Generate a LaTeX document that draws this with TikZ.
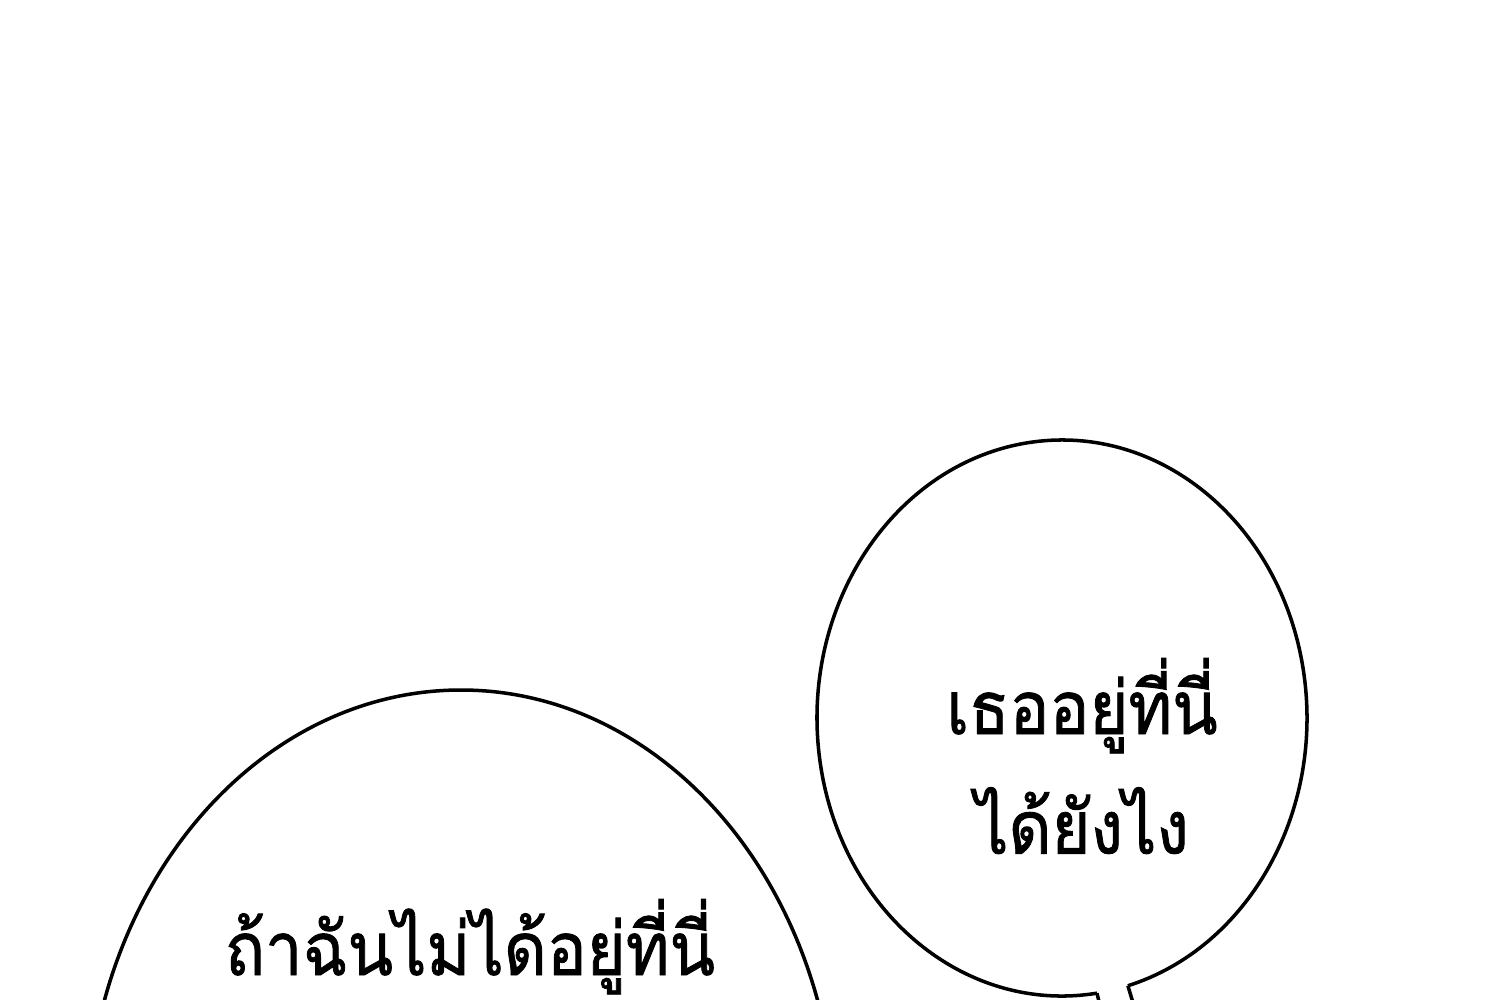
\documentclass[tikz,border=0pt]{standalone}
\usepackage{fontspec}
\newfontfamily\thaifont[Script=Thai,FakeBold=1.2]{Loma}

\tikzset{
	bubble/.style={line width=1pt,color=black},
	speech/.style={font=\thaifont\fontsize{21}{34}\selectfont,align=center,inner sep=0pt}
}
\newcommand{\narrow}[1]{\scalebox{0.9}[1]{#1}}

\begin{document}
\begin{tikzpicture}[x=0.01cm,y=-0.01cm]

\fill[white] (0,0) rectangle (1500,1000);
\useasboundingbox (0,0) rectangle (1500,1000);

\coordinate (lc) at (461,1140);
\coordinate (rc) at (1062,718);

\begin{scope}
\clip (0,0) rectangle (1500,1000);
% left bubble
\draw[bubble] (lc) ellipse [x radius=375,y radius=450];
% right bubble with tail
\draw[bubble] (rc) ++(81.8:245 and 278) coordinate (tl)
	arc[start angle=81.8,end angle=434.4,x radius=245,y radius=278] coordinate (tr);
\draw[bubble] (tl) -- ++(5,20);
\draw[bubble] (tr) -- ++(6,20);
\end{scope}

\node[speech] (right) at (1082,756) {\narrow{เธออยู่ที่นี่}\\\narrow{ได้ยังไง}};
\node[speech,anchor=base] (left) at (470,975) {\narrow{ถ้าฉันไม่ได้อยู่ที่นี่}};

\end{tikzpicture}
\end{document}
